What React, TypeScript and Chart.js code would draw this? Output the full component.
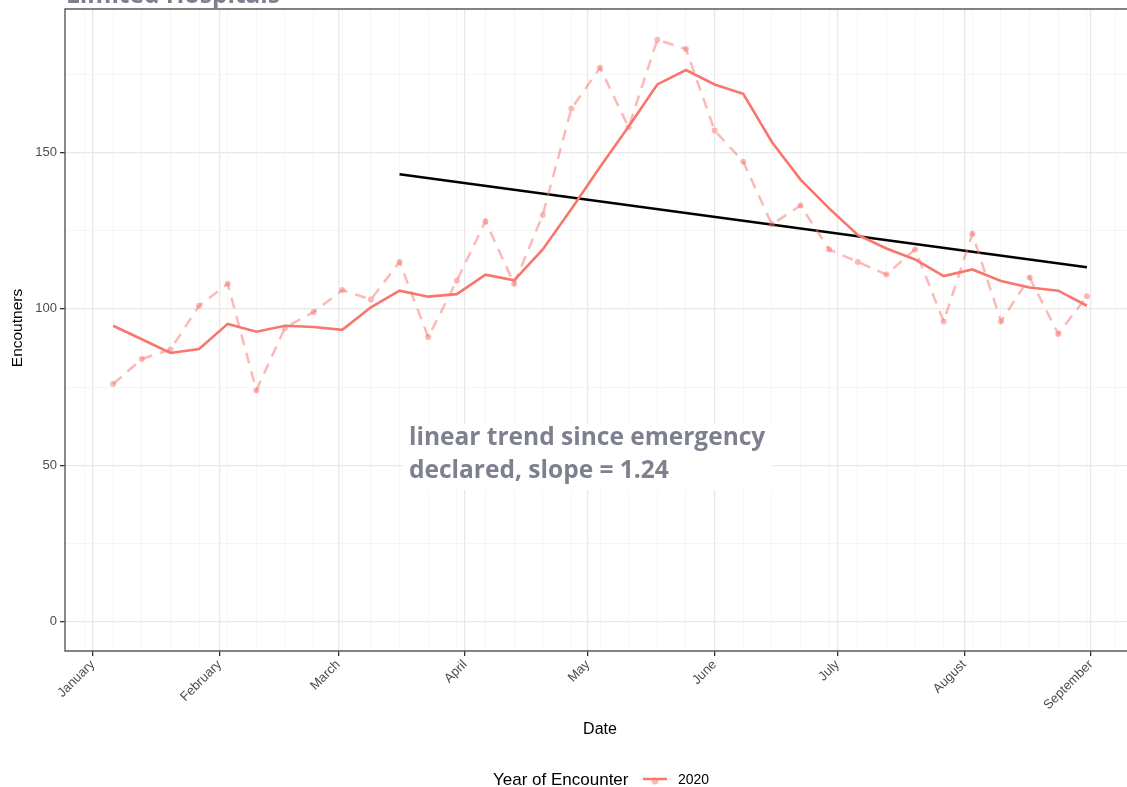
import React, { useEffect, useRef } from "react";
import { Chart, registerables } from "chart.js";

Chart.register(...registerables);

// ---- data ----
const weekDates = [
  "2020-01-06", "2020-01-13", "2020-01-20", "2020-01-27",
  "2020-02-03", "2020-02-10", "2020-02-17", "2020-02-24",
  "2020-03-02", "2020-03-09", "2020-03-16", "2020-03-23", "2020-03-30",
  "2020-04-06", "2020-04-13", "2020-04-20", "2020-04-27",
  "2020-05-04", "2020-05-11", "2020-05-18", "2020-05-25",
  "2020-06-01", "2020-06-08", "2020-06-15", "2020-06-22", "2020-06-29",
  "2020-07-06", "2020-07-13", "2020-07-20", "2020-07-27",
  "2020-08-03", "2020-08-10", "2020-08-17", "2020-08-24", "2020-08-31",
];
const weeklyEncounters = [
  76, 84, 87, 101, 108, 74, 94, 99, 106, 103, 115, 91, 109, 128, 108, 130, 164,
  177, 158, 186, 183, 157, 147, 127, 133, 119, 115, 111, 119, 96, 124, 96, 110, 92, 104,
];
const smoothedEncounters = [
  94.6, 90.3, 85.9, 87.2, 95.2, 92.7, 94.6, 94.2, 93.3, 100.5, 105.8, 103.9, 104.7,
  110.9, 109.1, 119.0, 131.9, 145.3, 158.3, 171.7, 176.3, 171.7, 168.7, 153.3, 141.3,
  132.1, 123.6, 119.3, 115.8, 110.5, 112.6, 108.9, 106.8, 105.8, 101.0,
];
const trendDates = ["2020-03-16", "2020-08-31"];
const trendValues = [143.0, 113.3];

const monthStarts = [
  "2020-01-01", "2020-02-01", "2020-03-01", "2020-04-01", "2020-05-01",
  "2020-06-01", "2020-07-01", "2020-08-01", "2020-09-01",
];
const monthLabels = [
  "January", "February", "March", "April", "May", "June", "July", "August", "September",
];
const minorBreakDates = ["2019-12-30", ...weekDates, "2020-09-07"];
const yMajor = [0, 50, 100, 150];
const yMinor = [25, 75, 125, 175];

const titleText = "Limited Hospitals";
const noteLines = ["linear trend since emergency", "declared, slope = 1.24"];
const legendTitle = "Year of Encounter";
const legendLabel = "2020";

// ---- helpers ----
const dayOf = (s: string) => {
  const [y, m, d] = s.split("-").map(Number);
  return (Date.UTC(y, m - 1, d) - Date.UTC(2020, 0, 1)) / 86400000;
};

const RED = "#F8766D";
const PALE = "rgba(248,118,109,0.5)";
const SANS = '"Liberation Sans", Arial, Helvetica, sans-serif';
const NOTE_FONT = 'bold 24.5px "Open Sans", "DejaVu Sans", sans-serif';
const NOTE_COLOR = "#7e8090";

export default function App() {
  const ref = useRef<HTMLCanvasElement | null>(null);

  useEffect(() => {
    document.body.style.margin = "0";
    document.body.style.overflow = "hidden";
    const canvas = ref.current;
    if (!canvas) return;

    const majorX = monthStarts.map(dayOf);
    const majorXSet = new Set(majorX);
    const minorX = minorBreakDates.map(dayOf).filter((v) => !majorXSet.has(v));
    const allX = [...majorX, ...minorX].sort((a, b) => a - b);
    const majorYSet = new Set(yMajor);
    const allY = [...yMajor, ...yMinor].sort((a, b) => a - b);

    const decor = {
      id: "decor",
      beforeDatasetsDraw(chart: any) {
        const { ctx } = chart;
        // annotation background box
        ctx.save();
        ctx.fillStyle = "#ffffff";
        ctx.fillRect(403, 424, 369, 66);
        ctx.restore();
      },
      afterDraw(chart: any) {
        const { ctx, chartArea } = chart;
        const { left, top, right, bottom } = chartArea;
        ctx.save();
        // panel border (left, top, bottom; right edge lies outside the picture)
        ctx.strokeStyle = "#595959";
        ctx.lineWidth = 1.4;
        ctx.beginPath();
        ctx.moveTo(right + 2, top);
        ctx.lineTo(left, top);
        ctx.lineTo(left, bottom);
        ctx.lineTo(right + 2, bottom);
        ctx.stroke();

        // annotation text
        ctx.font = NOTE_FONT;
        ctx.fillStyle = NOTE_COLOR;
        ctx.textAlign = "left";
        ctx.textBaseline = "alphabetic";
        ctx.fillText(noteLines[0], 409, 445);
        ctx.fillText(noteLines[1], 409, 478);

        // title (cropped at top)
        ctx.fillText(titleText, left + 1, 3);

        // axis titles
        ctx.fillStyle = "#000000";
        ctx.font = `16px ${SANS}`;
        ctx.textAlign = "center";
        ctx.textBaseline = "middle";
        ctx.fillText("Date", 600, 730);
        ctx.save();
        ctx.translate(18, 328);
        ctx.rotate(-Math.PI / 2);
        ctx.font = `15.5px ${SANS}`;
        ctx.fillText("Encoutners", 0, 0);
        ctx.restore();

        // legend
        ctx.textAlign = "left";
        ctx.font = `17px ${SANS}`;
        ctx.fillStyle = "#000000";
        ctx.fillText(legendTitle, 493, 780);
        ctx.strokeStyle = RED;
        ctx.lineWidth = 2.5;
        ctx.beginPath();
        ctx.moveTo(643, 779);
        ctx.lineTo(667, 779);
        ctx.stroke();
        ctx.fillStyle = PALE;
        ctx.beginPath();
        ctx.arc(655, 781, 3.5, 0, Math.PI * 2);
        ctx.fill();
        ctx.fillStyle = "#000000";
        ctx.font = `14px ${SANS}`;
        ctx.fillText(legendLabel, 678, 780);
        ctx.restore();
      },
    };

    const chart = new Chart(canvas, {
      type: "line",
      data: {
        datasets: [
          {
            label: "weekly",
            data: weekDates.map((d, i) => ({ x: dayOf(d), y: weeklyEncounters[i] })),
            borderColor: PALE,
            backgroundColor: PALE,
            borderWidth: 2.5,
            borderDash: [11, 8],
            pointRadius: 3,
            pointBorderWidth: 0,
            pointBackgroundColor: PALE,
            tension: 0,
          },
          {
            label: "2020",
            data: weekDates.map((d, i) => ({ x: dayOf(d), y: smoothedEncounters[i] })),
            borderColor: RED,
            borderWidth: 2.6,
            pointRadius: 0,
            tension: 0,
          },
          {
            label: "trend",
            data: trendDates.map((d, i) => ({ x: dayOf(d), y: trendValues[i] })),
            borderColor: "#000000",
            borderWidth: 2.6,
            pointRadius: 0,
            tension: 0,
          },
        ],
      },
      options: {
        animation: false,
        responsive: false,
        devicePixelRatio: 1,
        layout: { autoPadding: false, padding: { top: 9, left: 0, right: 0, bottom: 0 } },
        plugins: {
          legend: { display: false },
          tooltip: { enabled: false },
          title: { display: false },
        },
        scales: {
          x: {
            type: "linear",
            min: -6.77,
            max: 252.8,
            afterBuildTicks: (scale: any) => {
              scale.ticks = allX.map((v) => ({ value: v }));
            },
            afterFit: (scale: any) => {
              scale.height = 787 - 651;
              scale.paddingLeft = 0;
              scale.paddingRight = 0;
            },
            border: { display: false },
            grid: {
              color: (c: any) => (majorXSet.has(c.tick?.value) ? "#e8e8e8" : "#f3f3f3"),
              lineWidth: (c: any) => (majorXSet.has(c.tick?.value) ? 1.3 : 0.8),
              tickColor: (c: any) => (majorXSet.has(c.tick?.value) ? "#333333" : "rgba(0,0,0,0)"),
              tickLength: 5,
              tickWidth: 1.3,
            },
            ticks: {
              autoSkip: false,
              maxRotation: 45,
              minRotation: 45,
              padding: 1,
              color: "#4d4d4d",
              font: { family: SANS, size: 13 },
              callback: (v: any) => {
                const i = majorX.indexOf(Number(v));
                return i >= 0 ? monthLabels[i] : "";
              },
            },
          },
          y: {
            type: "linear",
            min: -9.3,
            max: 195.8,
            afterBuildTicks: (scale: any) => {
              scale.ticks = allY.map((v) => ({ value: v }));
            },
            afterFit: (scale: any) => {
              scale.width = 65;
              scale.paddingTop = 0;
              scale.paddingBottom = 0;
            },
            border: { display: false },
            grid: {
              color: (c: any) => (majorYSet.has(c.tick?.value) ? "#e8e8e8" : "#f3f3f3"),
              lineWidth: (c: any) => (majorYSet.has(c.tick?.value) ? 1.3 : 0.8),
              tickColor: (c: any) => (majorYSet.has(c.tick?.value) ? "#333333" : "rgba(0,0,0,0)"),
              tickLength: 5,
              tickWidth: 1.3,
            },
            ticks: {
              autoSkip: false,
              padding: 3,
              color: "#4d4d4d",
              font: { family: SANS, size: 13 },
              callback: (v: any) => (majorYSet.has(Number(v)) ? String(v) : ""),
            },
          },
        },
      },
      plugins: [decor],
    });

    return () => chart.destroy();
  }, []);

  return (
    <div style={{ width: 1127, height: 787 }}>
      <canvas ref={ref} width={1127} height={787} style={{ display: "block" }} />
    </div>
  );
}
